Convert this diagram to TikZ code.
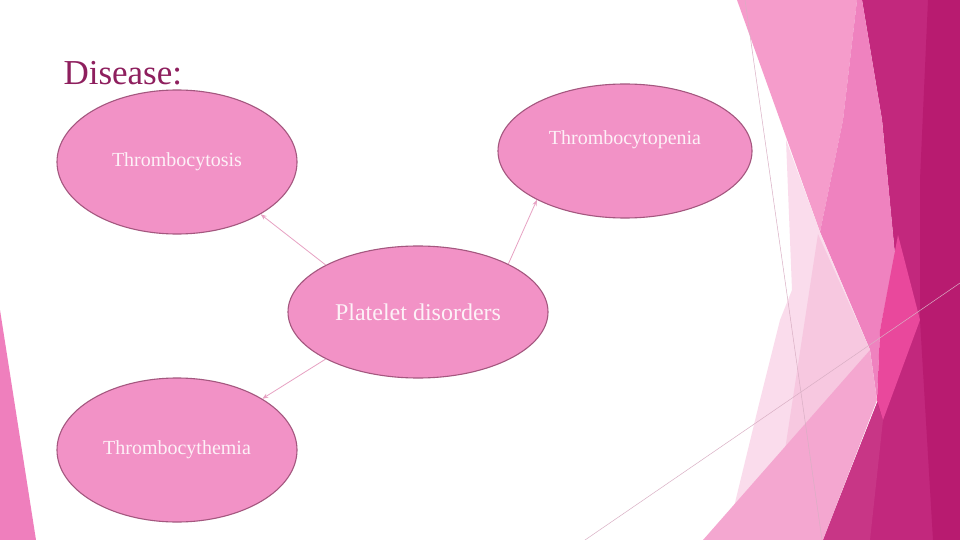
\documentclass[tikz,border=0pt]{standalone}
\usepackage{fontspec}
\setmainfont{Liberation Serif}
\usetikzlibrary{shapes,arrows.meta}
\tikzset{>={Stealth[length=6pt,width=4.5pt]}}
\definecolor{bubblefill}{HTML}{F292C6}
\definecolor{bubbleedge}{HTML}{A4577F}
\definecolor{bubbletext}{HTML}{FDF1F7}
\definecolor{linkpink}{HTML}{E7A2C3}
\definecolor{titlecol}{HTML}{8E1F5E}
\definecolor{facetdark}{HTML}{C2287D}
\definecolor{facetdarker}{HTML}{B81B70}
\definecolor{facetmid}{HTML}{C83686}
\definecolor{facetband}{HTML}{F59CCB}
\definecolor{facetpink}{HTML}{EF82BF}
\definecolor{facetleft}{HTML}{EF7FBD}
\definecolor{facethot}{HTML}{E9489C}
\definecolor{facetpale}{HTML}{FADCEC}
\definecolor{facetpaler}{HTML}{F7C8E0}
\definecolor{facetlight}{HTML}{F4A7D0}
\definecolor{facetline}{HTML}{D9AFC4}
\tikzset{
	bubble/.style={ellipse, draw=bubbleedge, line width=1.1pt, fill=bubblefill, text=bubbletext, inner sep=0pt, font=\fontsize{20}{24}\selectfont},
	link/.style={->, draw=linkpink, line width=0.8pt},
	facetedge/.style={draw=facetline, line width=0.5pt},
}

\begin{document}
\begin{tikzpicture}[x=1pt,y=-1pt]
	\useasboundingbox (0,0) rectangle (960,540);
	\fill[white] (0,0) rectangle (960,540);
	\fill[facetleft] (0,310) -- (0,540) -- (36,540) -- cycle;
	\fill[facetdark] (862,0) -- (960,0) -- (960,540) -- (823,540) -- (877,403) -- (903,340) -- (882,120) -- cycle;
	\fill[facetdarker] (928,0) -- (960,0) -- (960,540) -- (933,540) -- (920,320) -- (920,180) -- cycle;
	\fill[facetmid] (823,540) -- (877,403) -- (883,420) -- (870,540) -- cycle;
	\fill[facetband] (737,0) -- (857,0) -- (843,120) -- (820,232) -- (780,120) -- cycle;
	\fill[facetpink] (857,0) -- (862,0) -- (882,120) -- (895,255) -- (880,330) -- (877,400) -- (870,350) -- (820,232) -- (843,120) -- cycle;
	\fill[facethot] (898,235) -- (920,320) -- (883,420) -- (877,400) -- (880,330) -- cycle;
	\fill[facetpale] (786,140) -- (820,232) -- (870,350) -- (733,511) -- (760,400) -- (780,320) -- (792,290) -- cycle;
	\fill[facetpaler] (818,234) -- (870,350) -- (785,450) -- cycle;
	\fill[facetlight] (703,540) -- (870,350) -- (877,400) -- (823,540) -- cycle;
	\draw[facetedge] (745,0) -- (822,540);
	\draw[facetedge] (585,540) -- (960,283);

	\node[anchor=base west, text=titlecol, font=\fontsize{35}{40}\selectfont] (title) at (60,85) {Disease:};

	\node[bubble, minimum width=240pt, minimum height=144pt] (tcs) at (177,162) {Thrombocytosis};
	\node[bubble, minimum width=254pt, minimum height=134pt, text depth=26pt] (tcp) at (625,151) {Thrombocytopenia};
	\node[bubble, minimum width=260pt, minimum height=132pt, font=\fontsize{24}{28}\selectfont] (pd) at (418,312) {Platelet disorders};
	\node[bubble, minimum width=240pt, minimum height=144pt] (tch) at (177,450) {Thrombocythemia};

	\draw[link] (pd.153) -- (tcs.328);
	\draw[link] (pd.28) -- (tcp.209);
	\draw[link] (pd.207) -- (tch.31);
\end{tikzpicture}
\end{document}
